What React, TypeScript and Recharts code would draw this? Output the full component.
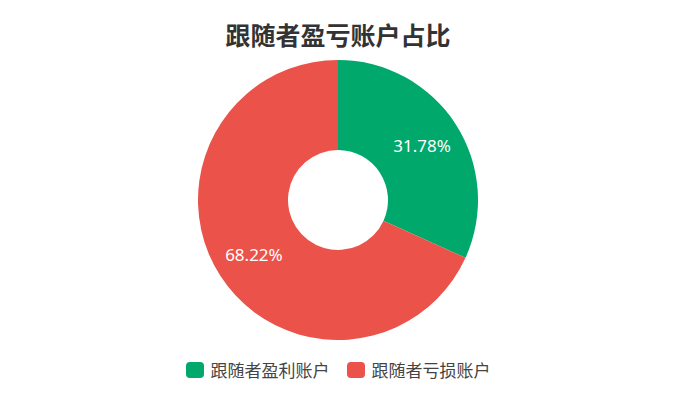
import React from "react";
import { PieChart, Pie, Cell } from "recharts";

const categories = ["跟随者盈利账户", "跟随者亏损账户"];
const values = [31.78, 68.22];
const colors = ["#00A86B", "#EB5249"];
const title = "跟随者盈亏账户占比";

const data = categories.map((name, i) => ({ name, value: values[i] }));

const RADIAN = Math.PI / 180;

const renderLabel = (props: any) => {
  const { cx, cy, midAngle, index } = props;
  const r = 100;
  const x = cx + r * Math.cos(-midAngle * RADIAN);
  const y = cy + r * Math.sin(-midAngle * RADIAN);
  return (
    <text
      x={x}
      y={y}
      fill="#fff"
      textAnchor="middle"
      dominantBaseline="central"
      style={{ fontSize: 17, fontFamily: "'Noto Sans', 'Noto Sans CJK SC', sans-serif" }}
    >
      {values[index].toFixed(2) + "%"}
    </text>
  );
};

export default function App() {
  return (
    <div
      style={{
        position: "absolute",
        left: 0,
        top: 0,
        width: 676,
        height: 402,
        background: "#fff",
        fontFamily: "'Noto Sans CJK SC', sans-serif",
      }}
    >
      <div
        style={{
          position: "absolute",
          left: 0,
          top: 17,
          width: 676,
          textAlign: "center",
          fontSize: 25,
          fontWeight: "bold",
          color: "#333",
          lineHeight: "34px",
        }}
      >
        {title}
      </div>
      <PieChart
        width={676}
        height={402}
        margin={{ top: 0, right: 0, bottom: 0, left: 0 }}
        style={{ position: "absolute", left: 0, top: 0 }}
      >
        <Pie
          data={data}
          dataKey="value"
          nameKey="name"
          cx={338}
          cy={200}
          innerRadius={50}
          outerRadius={140}
          startAngle={90}
          endAngle={-270}
          stroke="none"
          label={renderLabel}
          labelLine={false}
          isAnimationActive={false}
        >
          {data.map((d, i) => (
            <Cell key={d.name} fill={colors[i]} />
          ))}
        </Pie>
      </PieChart>
      <div
        style={{
          position: "absolute",
          left: 0,
          top: 359,
          width: 676,
          display: "flex",
          justifyContent: "center",
          alignItems: "center",
          gap: 17,
        }}
      >
        {categories.map((c, i) => (
          <div key={c} style={{ display: "flex", alignItems: "center" }}>
            <span
              style={{
                display: "inline-block",
                width: 18,
                height: 16,
                borderRadius: 4,
                background: colors[i],
                marginRight: 7,
              }}
            />
            <span style={{ fontSize: 17, color: "#444", lineHeight: "22px" }}>{c}</span>
          </div>
        ))}
      </div>
    </div>
  );
}
